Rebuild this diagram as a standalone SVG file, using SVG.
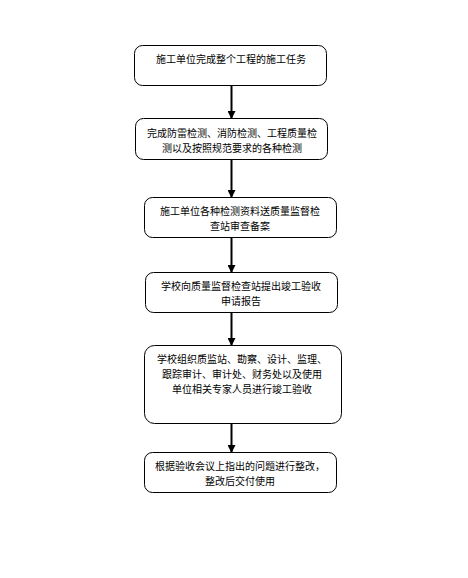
<svg xmlns="http://www.w3.org/2000/svg" width="468" height="578" viewBox="0 0 468 578">
<style>
.box{fill:#fff;stroke:#000;stroke-width:1}
.t{font-family:"Noto Sans CJK SC","Liberation Sans",sans-serif;font-size:10px;fill:#000;text-anchor:middle;dominant-baseline:central}
.c{stroke:#000;stroke-width:2;fill:none}
</style>
<defs>
<marker id="ah" markerWidth="4" markerHeight="4" refX="3.5" refY="2" orient="auto" markerUnits="strokeWidth">
<path d="M0,0 L4,2 L0,4 Z" fill="#000"/>
</marker>
</defs>
<rect width="468" height="578" fill="#fff"/>
<g id="connectors">
<line class="c" x1="231.5" y1="85" x2="231.5" y2="118" marker-end="url(#ah)"/>
<line class="c" x1="231.5" y1="159" x2="231.5" y2="197" marker-end="url(#ah)"/>
<line class="c" x1="231.5" y1="237" x2="231.5" y2="272" marker-end="url(#ah)"/>
<line class="c" x1="231.5" y1="312" x2="231.5" y2="345" marker-end="url(#ah)"/>
<line class="c" x1="231.5" y1="423" x2="231.5" y2="452" marker-end="url(#ah)"/>
</g>
<g id="n1">
<rect class="box" x="134.5" y="45.5" width="192" height="40" rx="8"/>
<text class="t" x="231" y="58">施工单位完成整个工程的施工任务</text>
</g>
<g id="n2">
<rect class="box" x="135.5" y="118.5" width="192" height="41" rx="8"/>
<text class="t" x="232" y="132">完成防雷检测、消防检测、工程质量检</text>
<text class="t" x="232" y="147">测以及按照规范要求的各种检测</text>
</g>
<g id="n3">
<rect class="box" x="144.5" y="197.5" width="192" height="40" rx="8"/>
<text class="t" x="240" y="210">施工单位各种检测资料送质量监督检</text>
<text class="t" x="240" y="225">查站审查备案</text>
</g>
<g id="n4">
<rect class="box" x="145.5" y="272.5" width="192" height="40" rx="8"/>
<text class="t" x="241" y="285">学校向质量监督检查站提出竣工验收</text>
<text class="t" x="241" y="300">申请报告</text>
</g>
<g id="n5">
<rect class="box" x="144.5" y="345.5" width="197" height="78" rx="10"/>
<text class="t" x="242" y="358">学校组织质监站、勘察、设计、监理、</text>
<text class="t" x="242" y="373">跟踪审计、审计处、财务处以及使用</text>
<text class="t" x="242" y="388">单位相关专家人员进行竣工验收</text>
</g>
<g id="n6">
<rect class="box" x="144.5" y="452.5" width="192" height="40" rx="8"/>
<text class="t" x="240" y="465">根据验收会议上指出的问题进行整改，</text>
<text class="t" x="240" y="480">整改后交付使用</text>
</g>
</svg>
